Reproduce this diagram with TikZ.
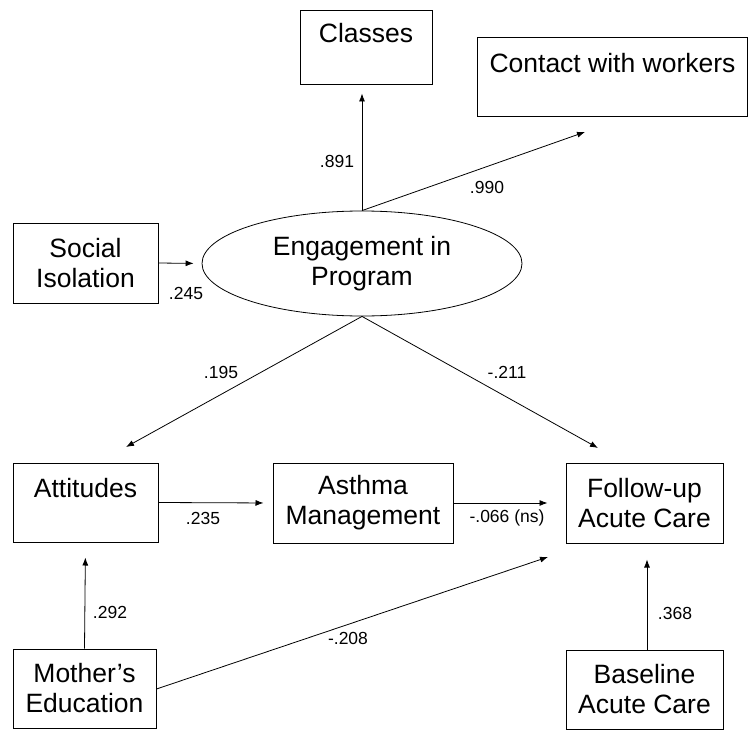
\documentclass[tikz,border=0pt]{standalone}
\usepackage{fontspec}
\setmainfont{Liberation Sans}
\usetikzlibrary{arrows.meta,shapes.geometric}
\tikzset{
  box/.style={draw, line width=1pt, rectangle, align=center, inner sep=0pt,
    font=\fontsize{26.5}{30}\selectfont},
  oval/.style={draw, line width=0.8pt, ellipse, align=center, inner sep=0pt,
    minimum width=320pt, minimum height=105pt, font=\fontsize{26.5}{30}\selectfont},
  coef/.style={font=\fontsize{17.5}{20}\selectfont, inner sep=0pt},
  arr/.style={line width=0.8pt, -{Latex[length=8pt,width=6pt]}}
}
\begin{document}
\begin{tikzpicture}[x=1pt,y=-1pt]
\useasboundingbox (0,0) rectangle (749,730);
% nodes
\node[box, minimum width=132pt, minimum height=74pt] (classes) at (366,48) {Classes\\\mbox{}};
\node[box, minimum width=270pt, minimum height=79pt] (contact) at (612.5,77.5) {Contact with workers\\\mbox{}};
\node[box, minimum width=145pt, minimum height=80pt] (social) at (85.5,263) {Social\\Isolation};
\node[oval] (eng) at (362,263.5) {Engagement in\\Program};
\node[box, minimum width=145pt, minimum height=79pt] (att) at (85.5,502.5) {Attitudes\\\mbox{}};
\node[box, minimum width=180pt, minimum height=80pt] (asth) at (363,503) {Asthma\\Management};
\node[box, minimum width=157pt, minimum height=80pt] (fol) at (644.5,503) {Follow-up\\Acute Care};
\node[box, minimum width=143pt, minimum height=79pt] (moth) at (84.5,688.5) {Mother's\\Education};
\node[box, minimum width=157pt, minimum height=79pt] (base) at (644.5,689.5) {Baseline\\Acute Care};
% free arrow ends
\coordinate (ctip) at (585,132);
\coordinate (atip) at (126,447);
\coordinate (ftip) at (598,448);
\coordinate (mtip) at (548,557);
% connectors
\draw[arr, shorten >=8pt] (eng.north) -- (eng.north |- classes.south);
\draw[arr] (eng.north) -- (ctip);
\draw[arr, shorten >=8pt] (social.east) -- (eng.west);
\draw[arr] (eng.south) -- (atip);
\draw[arr] (eng.south) -- (ftip);
\draw[arr, shorten >=9pt] (att.east) -- (asth.west);
\draw[arr, shorten >=18pt] (asth.east) -- (fol.west);
\draw[arr, shorten >=15pt] (moth.north) -- (att.south);
\draw[arr] ([yshift=-0.5pt]moth.east) -- (mtip);
\draw[arr, shorten >=16pt] ([xshift=2.5pt]base.north) -- ([xshift=2.5pt]fol.south);
% coefficients
\node[coef] (c1) at (337,161) {.891};
\node[coef] (c2) at (487,187) {.990};
\node[coef] (c3) at (186,293) {.245};
\node[coef] (c4) at (221,372) {.195};
\node[coef] (c5) at (507,372) {-.211};
\node[coef] (c6) at (203,518) {.235};
\node[coef] (c7) at (507,518) {-.066 (ns)};
\node[coef] (c8) at (110,612) {.292};
\node[coef] (c9) at (348,638) {-.208};
\node[coef] (c10) at (675,613) {.368};
\end{tikzpicture}
\end{document}
